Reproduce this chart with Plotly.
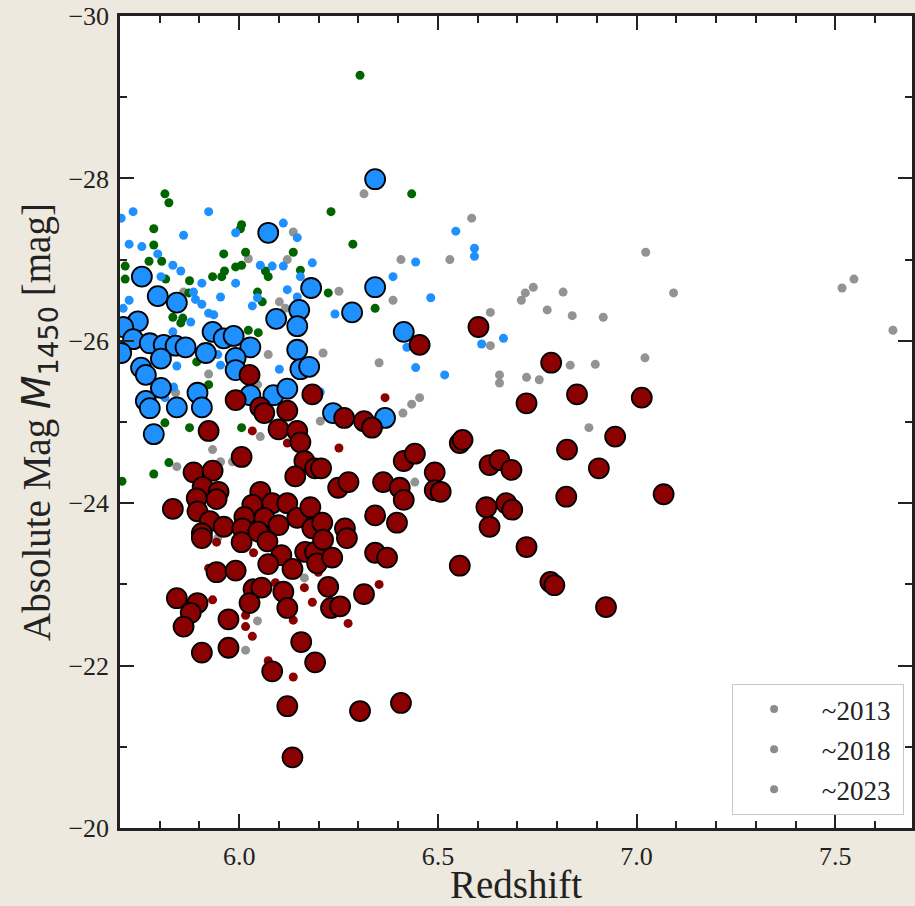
import plotly.graph_objects as go

# ---- quasar samples: redshift z and absolute magnitude M1450 ----
grey_z = [7.023, 7.093, 7.517, 7.547, 6.916, 7.645, 6.585, 6.314, 6.407, 6.530, 6.251, 6.387,
          6.632, 6.632, 6.211, 6.352, 6.655, 6.655, 6.454, 6.434, 6.412, 6.204, 6.442, 6.136,
          6.023, 6.121, 5.860, 6.101, 6.116, 6.073, 5.923, 6.046, 5.840, 6.053, 5.933, 5.953,
          5.983, 5.843, 5.946, 6.164, 6.046, 6.016, 6.710, 6.720, 6.740, 6.775, 6.815, 6.838,
          6.723, 6.755, 6.833, 6.896, 7.021, 6.880]
grey_m = [-27.09, -26.59, -26.65, -26.76, -26.29, -26.13, -27.51, -27.81, -27.00, -27.00, -26.61, -26.50,
          -26.35, -25.94, -25.85, -25.73, -25.58, -25.48, -25.30, -25.22, -25.11, -25.01, -24.26, -27.34,
          -27.01, -27.00, -26.60, -26.48, -26.40, -25.83, -25.59, -25.46, -25.36, -24.82, -24.66, -24.51,
          -24.51, -24.45, -23.57, -23.08, -22.55, -22.19, -26.50, -26.59, -26.66, -26.38, -26.60, -26.31,
          -25.55, -25.52, -25.70, -25.71, -25.79, -24.93]

green_z = [6.304, 6.434, 6.231, 6.286, 6.342, 5.813, 5.823, 5.785, 5.785, 5.773, 5.805, 5.713,
           5.713, 5.815, 5.875, 5.961, 6.006, 6.003, 6.016, 5.991, 6.006, 5.933, 5.956, 5.963,
           6.066, 6.073, 6.136, 6.154, 5.873, 6.046, 6.058, 5.833, 5.853, 5.858, 6.023, 6.048,
           6.224, 5.893, 5.923, 5.813, 5.875, 6.006, 5.823, 5.785, 5.705]
green_m = [-29.27, -27.81, -27.59, -27.19, -26.40, -27.81, -27.70, -27.38, -27.18, -26.98, -26.98, -26.92,
           -26.76, -26.76, -26.74, -27.07, -27.43, -27.38, -27.09, -26.91, -26.93, -26.79, -26.79, -26.86,
           -26.86, -26.79, -27.09, -26.87, -26.59, -26.60, -26.48, -26.29, -26.22, -26.28, -26.13, -26.10,
           -26.59, -25.74, -25.46, -24.99, -24.93, -24.93, -24.50, -24.36, -24.27]

blue_z = [5.733, 5.923, 5.860, 5.723, 5.755, 5.795, 6.111, 5.991, 6.146, 6.184, 5.833, 5.853,
          6.053, 6.083, 6.111, 6.154, 5.803, 5.906, 5.991, 6.121, 5.885, 5.890, 5.723, 5.953,
          6.046, 6.033, 6.146, 5.906, 5.923, 5.936, 5.878, 5.708, 5.833, 5.703, 6.545, 6.592,
          6.592, 6.444, 6.387, 6.482, 6.241, 6.665, 6.610, 6.422, 6.444, 6.517, 6.204, 5.843,
          5.953, 6.101, 5.835, 5.813, 5.946, 6.036]
blue_m = [-27.59, -27.59, -27.30, -27.19, -27.16, -27.07, -27.45, -27.33, -27.27, -26.96, -26.93, -26.86,
          -26.93, -26.92, -26.92, -26.79, -26.79, -26.71, -26.71, -26.63, -26.60, -26.51, -26.50, -26.54,
          -26.53, -26.43, -26.54, -26.45, -26.34, -26.32, -26.23, -26.40, -26.11, -27.51, -27.35, -27.14,
          -27.04, -26.97, -26.79, -26.53, -26.33, -26.03, -25.96, -25.92, -25.67, -25.58, -25.37, -25.69,
          -25.70, -25.65, -25.43, -25.30, -25.83, -25.39]

red_z = [6.033, 6.121, 6.367, 6.251, 5.943, 6.036, 5.923, 5.933, 6.016, 6.016, 6.033, 6.091,
         6.164, 6.184, 6.136, 6.073, 6.136, 6.352, 6.274, 6.199]
red_m = [-24.89, -24.74, -25.30, -24.68, -23.52, -23.39, -23.20, -22.81, -22.62, -22.48, -22.36, -23.02,
         -22.96, -22.78, -22.56, -22.06, -21.86, -23.00, -22.52, -23.15]

# highlighted objects (large outlined circles)
big_blue_z = [6.342, 6.073, 5.755, 5.795, 5.843, 6.181, 6.342, 6.284, 6.151, 6.146, 6.093, 5.745,
              5.708, 5.733, 5.933, 5.961, 5.986, 6.028, 5.775, 5.810, 5.840, 5.865, 5.916, 6.146,
              5.703, 5.803, 5.991, 5.753, 5.765, 5.991, 6.154, 6.176, 5.803, 5.895, 6.028, 6.086,
              6.121, 6.236, 6.367, 5.765, 5.775, 5.843, 5.906, 5.785, 6.414]
big_blue_m = [-27.99, -27.33, -26.79, -26.55, -26.47, -26.65, -26.66, -26.35, -26.38, -26.18, -26.27, -26.24,
              -26.17, -26.02, -26.11, -26.03, -26.06, -25.92, -25.97, -25.95, -25.94, -25.92, -25.85, -25.89,
              -25.85, -25.78, -25.79, -25.67, -25.58, -25.64, -25.65, -25.68, -25.42, -25.36, -25.33, -25.33,
              -25.41, -25.11, -25.05, -25.26, -25.17, -25.18, -25.18, -24.85, -26.11]

big_red_z = [6.026, 5.991, 5.923, 6.053, 6.063, 6.121, 6.099, 6.146, 6.154, 6.184, 6.006, 6.164,
             6.141, 6.191, 5.885, 5.933, 5.908, 5.948, 5.893, 5.943, 5.833, 5.895, 5.926, 5.906,
             5.961, 6.053, 6.033, 6.083, 6.063, 6.013, 6.121, 6.146, 6.179, 6.008, 6.048, 6.099,
             6.184, 6.264, 6.314, 6.334, 6.555, 6.562, 6.206, 6.414, 6.442, 6.492, 6.492, 6.507,
             6.249, 6.275, 6.362, 6.404, 6.414, 6.342, 6.397, 6.209, 6.266, 6.630, 6.655, 6.685,
             6.622, 6.672, 6.687, 6.630, 6.723, 6.602, 6.454, 6.785, 6.850, 7.013, 6.946, 6.825,
             6.905, 7.068, 6.823, 6.723, 6.555, 6.783, 6.793, 6.923, 5.906, 6.006, 6.071, 6.106,
             6.166, 6.191, 6.196, 6.073, 6.134, 5.943, 5.991, 6.036, 6.056, 6.111, 6.026, 6.121,
             5.843, 5.895, 5.878, 5.860, 5.973, 6.156, 5.906, 5.973, 6.083, 6.191, 6.121, 6.211,
             6.271, 6.234, 6.342, 6.372, 6.224, 6.314, 6.231, 6.254, 6.304, 6.407, 6.134]
big_red_m = [-25.58, -25.27, -24.89, -25.18, -25.11, -25.14, -24.91, -24.89, -24.75, -25.34, -24.57, -24.52,
             -24.33, -24.43, -24.38, -24.40, -24.20, -24.14, -24.06, -24.05, -23.93, -23.90, -23.78, -23.63,
             -23.71, -24.14, -23.98, -24.00, -23.82, -23.83, -24.00, -23.82, -23.95, -23.69, -23.65, -23.73,
             -23.69, -25.05, -25.01, -24.93, -24.74, -24.78, -24.43, -24.52, -24.61, -24.38, -24.16, -24.14,
             -24.19, -24.26, -24.26, -24.19, -24.04, -23.85, -23.76, -23.76, -23.69, -24.47, -24.53, -24.41,
             -23.95, -24.00, -23.92, -23.71, -25.23, -26.17, -25.95, -25.73, -25.34, -25.30, -24.82, -24.66,
             -24.43, -24.11, -24.08, -23.46, -23.23, -23.03, -22.99, -22.72, -23.57, -23.52, -23.53, -23.36,
             -23.40, -23.40, -23.26, -23.25, -23.19, -23.15, -23.17, -22.94, -22.96, -22.91, -22.77, -22.71,
             -22.83, -22.77, -22.65, -22.48, -22.57, -22.29, -22.16, -22.22, -21.93, -22.04, -21.50, -23.55,
             -23.57, -23.33, -23.39, -23.33, -22.97, -22.88, -22.71, -22.73, -21.44, -21.54, -20.87]

legend_labels = ["~2013", "~2018", "~2023"]

GREY = "rgba(128,128,128,0.85)"
GREEN = "#006400"
BLUE = "#1E90FF"
RED = "#8B0000"
SERIF = "Liberation Serif, Times New Roman, serif"
INK = "#222222"

fig = go.Figure()

for zs, ms, col in [(grey_z, grey_m, GREY), (green_z, green_m, GREEN),
                    (blue_z, blue_m, BLUE), (red_z, red_m, RED)]:
    fig.add_trace(go.Scatter(x=zs, y=ms, mode="markers", showlegend=False,
                             marker=dict(size=9, color=col, line=dict(width=0))))

fig.add_trace(go.Scatter(x=big_blue_z, y=big_blue_m, mode="markers", showlegend=False,
                         marker=dict(size=20, color=BLUE, line=dict(width=1.8, color="black"))))
fig.add_trace(go.Scatter(x=big_red_z, y=big_red_m, mode="markers", showlegend=False,
                         marker=dict(size=20, color=RED, line=dict(width=1.8, color="black"))))

# legend entries (no-break spaces widen the gap to the marker and pad the box)
for i, lab in enumerate(legend_labels):
    fig.add_trace(go.Scatter(x=[None], y=[None], mode="markers",
                             name="\u00a0" + lab + "\u00a0",
                             legendgroup=f"g{i}",
                             marker=dict(size=8, color="#8c8c8c")))

axis_common = dict(showline=True, linewidth=2.5, linecolor=INK, mirror="ticks",
                   ticks="inside", ticklen=14, tickwidth=1.5, tickcolor=INK,
                   showgrid=False, zeroline=False,
                   tickfont=dict(family=SERIF, size=26, color=INK))

fig.update_xaxes(range=[5.7, 7.693], dtick=0.5, tick0=6.0, tickformat=".1f",
                 ticklabelstandoff=3,
                 minor=dict(dtick=0.1, ticklen=7, tickwidth=2, tickcolor=INK, ticks="inside"),
                 title=dict(text="Redshift", font=dict(family=SERIF, size=39, color=INK),
                            standoff=0),
                 **axis_common)
fig.update_yaxes(range=[-20, -30], dtick=2, tick0=-30, ticklabelstandoff=3,
                 minor=dict(dtick=1, ticklen=7, tickwidth=2, tickcolor=INK, ticks="inside"),
                 title=dict(text='Absolute Mag <span style="font-family:DejaVu Sans"><i>M</i><sub>1450</sub></span> [mag]',
                            font=dict(family=SERIF, size=39, color=INK), standoff=6),
                 **axis_common)

fig.update_layout(
    width=915, height=906,
    margin=dict(l=120, r=0, t=16, b=78),
    paper_bgcolor="#EDE9DF", plot_bgcolor="white",
    legend=dict(x=0.99, y=0.016, xanchor="right", yanchor="bottom",
                bgcolor="white", bordercolor="#c8c8c8", borderwidth=1,
                font=dict(family=SERIF, size=27, color=INK),
                tracegroupgap=2, itemwidth=72),
)

fig.write_html("out.html")
